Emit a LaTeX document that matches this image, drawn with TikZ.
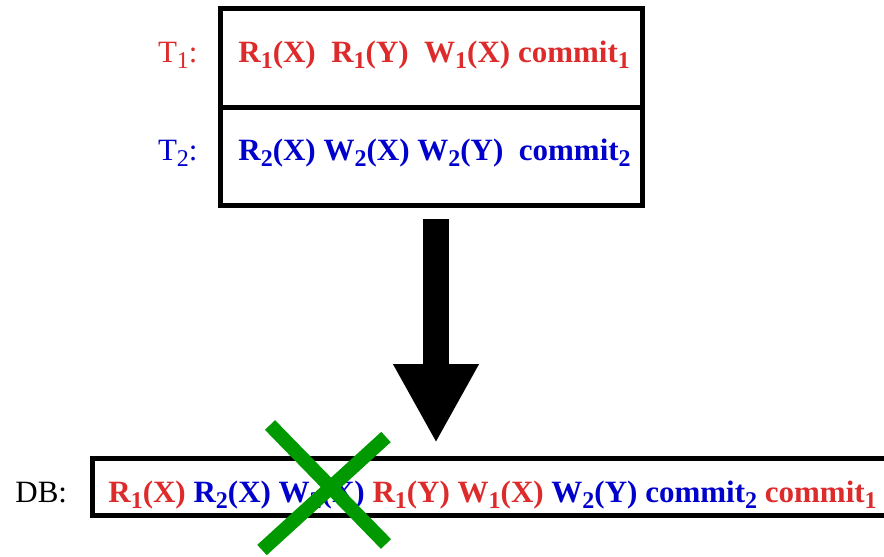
\documentclass[tikz,border=0pt]{standalone}
\usepackage{fontspec}
\setmainfont{Liberation Serif}
\usetikzlibrary{arrows.meta}
\definecolor{opred}{RGB}{221,43,43}
\definecolor{opblue}{RGB}{0,0,204}
\definecolor{crossgreen}{RGB}{0,153,0}
\newcommand{\sub}[1]{\raisebox{-3pt}{\fontsize{12}{12}\selectfont #1}}
\newcommand{\op}[3]{#1\sub{#2}(#3)}

\begin{document}
\begin{tikzpicture}[x=0.5pt,y=-0.5pt]
    \useasboundingbox (0,0) rectangle (884,557);
    \clip (0,0) rectangle (884,557);

    % boxes
    \begin{scope}[every node/.style={draw,line width=2.5pt,inner sep=0pt}]
      \node[minimum width=211pt,minimum height=49.5pt] (box1) at (431,57.5) {};
      \node[minimum width=211pt,minimum height=49pt] (box2) at (431,156.5) {};
      \node[minimum width=398pt,minimum height=28.25pt] (dbbox) at (490,486.75) {};
    \end{scope}

    % labels
    \begin{scope}[every node/.style={inner sep=0pt,font=\fontsize{15.5}{18}\selectfont}]
      \node[anchor=base east,text=opred] (t1) at (198,62) {T\sub{1}:};
      \node[anchor=base east,text=opblue] (t2) at (198,160) {T\sub{2}:};
      \node[anchor=base west] (db) at (15,502) {DB:};
    \end{scope}

    % schedules
    \begin{scope}[every node/.style={inner sep=0pt,anchor=base west,
        font=\fontsize{15.5}{18}\selectfont\bfseries}]
      \node (s1) at (238,62) {\color{opred}\op{R}{1}{X}\ \ \op{R}{1}{Y}\ \ \op{W}{1}{X} commit\sub{1}};
      \node (s2) at (238,160) {\color{opblue}\op{R}{2}{X} \op{W}{2}{X} \op{W}{2}{Y}\ \ commit\sub{2}};
      \node (sdb) at (108,502) {\color{opred}\op{R}{1}{X} \color{opblue}\op{R}{2}{X} \op{W}{2}{X}
        \color{opred}\op{R}{1}{Y} \op{W}{1}{X} \color{opblue}\op{W}{2}{Y} commit\sub{2}
        \color{opred}commit\sub{1}};
    \end{scope}

    % big arrow
    \coordinate (atop) at (436,219);
    \coordinate (atip) at (436,443);
    \draw[line width=13pt,-{Triangle[length=39.5pt,width=40pt]}] (atop) -- (atip);

    % cross
    \coordinate (c1) at (270,425);
    \coordinate (c2) at (386,544);
    \coordinate (c3) at (386,437);
    \coordinate (c4) at (262,550);
    \begin{scope}[every path/.style={draw=crossgreen,line width=7pt}]
      \path (c1) -- (c2);
      \path (c3) -- (c4);
    \end{scope}
\end{tikzpicture}
\end{document}
